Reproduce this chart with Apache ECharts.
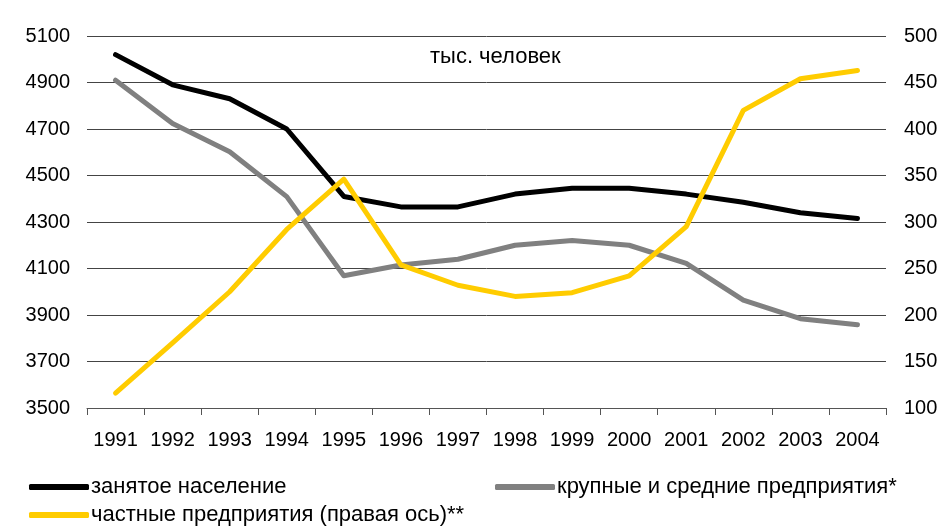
<!DOCTYPE html>
<html><head><meta charset="utf-8">
<script src="https://cdn.jsdelivr.net/npm/echarts@6/dist/echarts.min.js"></script>
<style>html,body{margin:0;padding:0;background:#fff}#c{width:942px;height:526px}</style>
</head><body><div id="c"></div>
<script>
const years = ['1991','1992','1993','1994','1995','1996','1997','1998','1999','2000','2001','2002','2003','2004'];
const employed = [5020,4890,4830,4700,4410,4365,4365,4420,4445,4445,4420,4385,4340,4315];
const largeMedium = [4910,4724,4602,4409,4069,4115,4140,4200,4220,4200,4122,3964,3884,3858];
const privateEnt = [116,170,225,292,346,254,232,220,224,242,295,420,454,463];
const seriesNames = ['занятое население','крупные и средние предприятия*','частные предприятия (правая ось)**'];
const unitLabel = 'тыс. человек';

const font = 'Liberation Sans, Arial, sans-serif';
const chart = echarts.init(document.getElementById('c'));
const legendBase = {
  icon: 'roundRect', itemWidth: 60, itemHeight: 6, itemGap: 4, padding: 0,
  textStyle: {fontFamily: font, fontSize: 22, color: '#000', padding: [0,0,0,-3]}
};
chart.setOption({
  animation: false,
  grid: {left: 87, right: 56, top: 36, bottom: 118},
  legend: [
    Object.assign({left: 29, top: 476, data: [seriesNames[0]]}, legendBase),
    Object.assign({left: 495, top: 476, data: [seriesNames[1]]}, legendBase),
    Object.assign({left: 29, top: 504, data: [seriesNames[2]]}, legendBase)
  ],
  graphic: [{type: 'text', left: 430, top: 46, style: {text: unitLabel, font: '22px ' + font, fill: '#000'}}],
  xAxis: {
    type: 'category', data: years, boundaryGap: true,
    axisLine: {lineStyle: {color: '#555', width: 1}},
    axisTick: {show: true, length: 7, lineStyle: {color: '#555'}, alignWithLabel: false, interval: 0},
    axisLabel: {fontFamily: font, fontSize: 20, color: '#000', margin: 22, interval: 0, hideOverlap: false}
  },
  yAxis: [
    {type: 'value', min: 3500, max: 5100, interval: 200,
     axisLine: {show: false}, axisTick: {show: false},
     axisLabel: {fontFamily: font, fontSize: 20, color: '#000', margin: 17, formatter: v => String(v)},
     splitLine: {lineStyle: {color: '#444', width: 1}}},
    {type: 'value', min: 100, max: 500, interval: 50, position: 'right',
     axisLine: {show: false}, axisTick: {show: false},
     axisLabel: {fontFamily: font, fontSize: 20, color: '#000', margin: 18, formatter: v => String(v)},
     splitLine: {show: false}}
  ],
  series: [
    {name: seriesNames[0], type: 'line', data: employed, yAxisIndex: 0, symbol: 'none',
     lineStyle: {color: '#000', width: 5, cap: 'round', join: 'round'}, itemStyle: {color: '#000'}, z: 3},
    {name: seriesNames[1], type: 'line', data: largeMedium, yAxisIndex: 0, symbol: 'none',
     lineStyle: {color: '#808080', width: 5, cap: 'round', join: 'round'}, itemStyle: {color: '#808080'}, z: 2},
    {name: seriesNames[2], type: 'line', data: privateEnt, yAxisIndex: 1, symbol: 'none',
     lineStyle: {color: '#FFCC00', width: 5, cap: 'round', join: 'round'}, itemStyle: {color: '#FFCC00'}, z: 4}
  ]
});
</script></body></html>
